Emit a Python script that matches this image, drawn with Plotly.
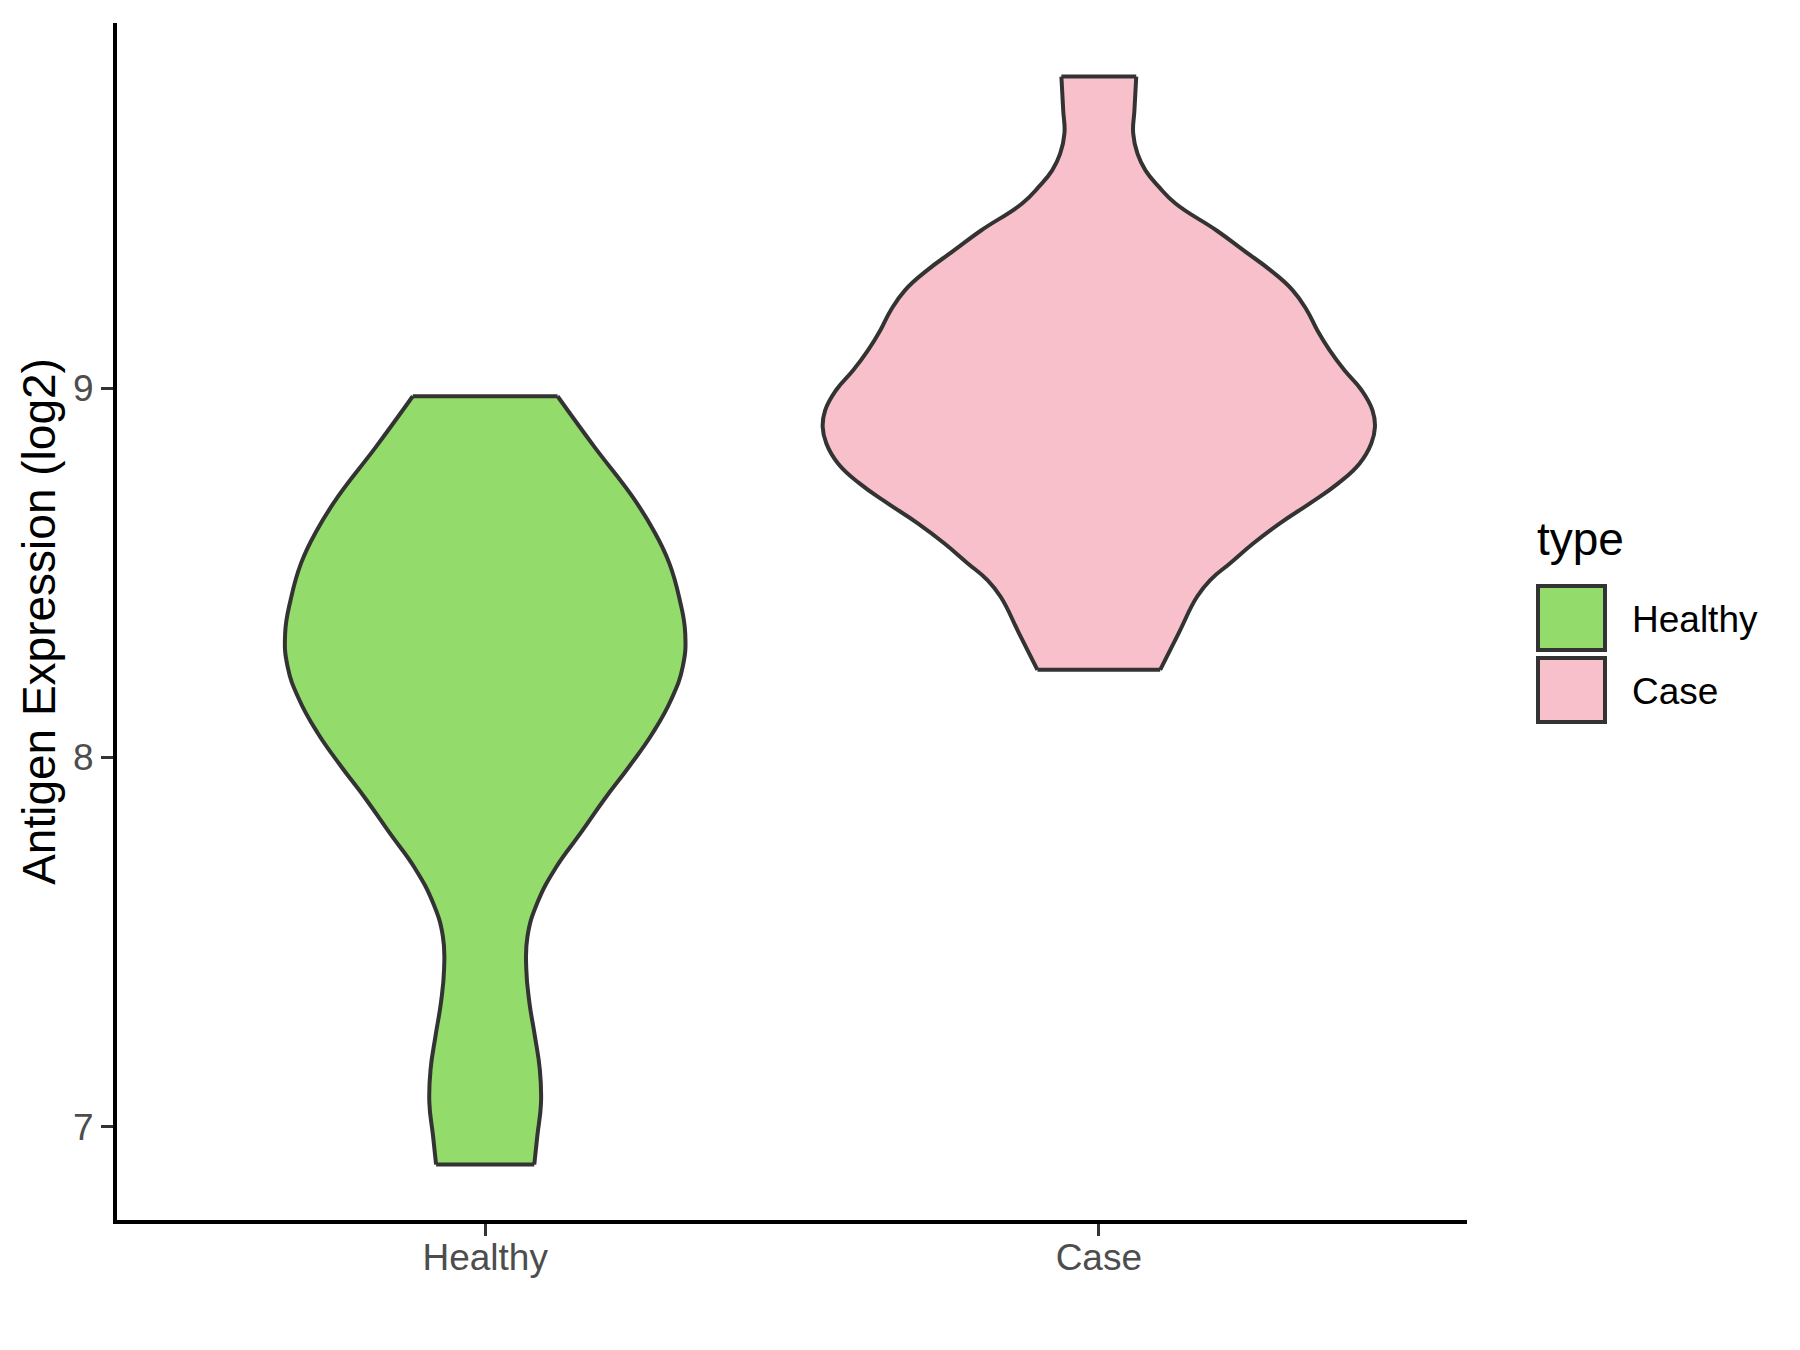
import plotly.graph_objects as go

# ---- data ----
categories = ["Healthy", "Case"]
tick_vals_y = [7, 8, 9]

# violin outline profiles: expression level and half-width (in category units)
healthy_y = [6.897, 6.975, 7.065, 7.155, 7.245, 7.337, 7.426, 7.516, 7.606, 7.701, 7.796,
             7.886, 7.976, 8.066, 8.156, 8.246, 8.336, 8.427, 8.526, 8.616, 8.706, 8.841, 8.978]
healthy_hw = [0.080, 0.085, 0.091, 0.089, 0.081, 0.072, 0.067, 0.069, 0.085, 0.115, 0.156,
              0.194, 0.235, 0.273, 0.303, 0.322, 0.326, 0.317, 0.300, 0.274, 0.240, 0.178, 0.118]

case_y = [8.237, 8.336, 8.435, 8.481, 8.526, 8.580, 8.634, 8.688, 8.742, 8.796, 8.850,
          8.895, 8.940, 8.995, 9.049, 9.103, 9.157, 9.211, 9.265, 9.319, 9.373, 9.427,
          9.500, 9.545, 9.590, 9.635, 9.690, 9.752, 9.844]
case_hw = [0.100, 0.130, 0.160, 0.182, 0.214, 0.252, 0.295, 0.344, 0.390, 0.425, 0.444,
           0.450, 0.446, 0.428, 0.400, 0.376, 0.356, 0.339, 0.316, 0.280, 0.236, 0.192,
           0.125, 0.098, 0.076, 0.063, 0.056, 0.058, 0.061]

colors = {"Healthy": "#93DB6B", "Case": "#F8C0CB"}
profiles = {"Healthy": (healthy_y, healthy_hw), "Case": (case_y, case_hw)}

FONT = "Liberation Sans, Arial, sans-serif"
OUTLINE = "#333333"

W, H = 1800, 1350
OFF = 8  # page body margin in the browser
L, R, T, B = 117 - OFF, 1467 - OFF, 23 - OFF, 1220 - OFF  # plot area in figure pixels

fig = go.Figure()

for i, cat in enumerate(categories):
    center = i + 1
    ys, hws = profiles[cat]
    xs_left = [center - h for h in hws]
    xs_right = [center + h for h in hws]
    line_style = dict(color=OUTLINE, width=4, shape="spline", smoothing=1.3)
    fig.add_trace(go.Scatter(x=xs_left, y=ys, mode="lines", line=line_style,
                             showlegend=False, hoverinfo="skip"))
    fig.add_trace(go.Scatter(x=xs_right, y=ys, mode="lines", line=line_style,
                             fill="tonextx", fillcolor=colors[cat], name=cat,
                             showlegend=False, hoverinfo="skip"))
    fig.add_trace(go.Scatter(
        x=[xs_left[0], xs_right[0], None, xs_left[-1], xs_right[-1]],
        y=[ys[0], ys[0], None, ys[-1], ys[-1]],
        mode="lines", line=dict(color=OUTLINE, width=4),
        showlegend=False, hoverinfo="skip"))

def pxx(x):
    return (x - OFF - L) / (R - L)

def pxy(y):
    return (B - (y - OFF)) / (B - T)

# manual legend (ggplot style), positions given in page pixels
shapes = []
annotations = []
annotations.append(dict(text="type", x=pxx(1535), y=pxy(539), xref="paper", yref="paper",
                        xanchor="left", yanchor="middle", showarrow=False,
                        font=dict(family=FONT, size=46, color="black")))
key_tops = [584, 656]
for cat, top in zip(categories, key_tops):
    shapes.append(dict(type="rect", xref="paper", yref="paper",
                       x0=pxx(1538), x1=pxx(1605), y0=pxy(top + 2), y1=pxy(top + 66),
                       fillcolor=colors[cat], line=dict(color=OUTLINE, width=4)))
    annotations.append(dict(text=cat, x=pxx(1630), y=pxy(top + 35), xref="paper", yref="paper",
                            xanchor="left", yanchor="middle", showarrow=False,
                            font=dict(family=FONT, size=37, color="black")))

fig.update_layout(
    width=W, height=H,
    margin=dict(l=L, r=W - R, t=T, b=H - B, autoexpand=False),
    paper_bgcolor="white", plot_bgcolor="white",
    shapes=shapes, annotations=annotations,
    showlegend=False,
    font=dict(family=FONT),
)
fig.update_xaxes(
    range=[0.4, 2.6], tickmode="array", tickvals=[1, 2], ticktext=categories,
    showgrid=False, zeroline=False, showline=True, linecolor="black", linewidth=4,
    ticks="outside", ticklen=12, tickwidth=3, tickcolor="#333333",
    tickfont=dict(family=FONT, size=37, color="#4D4D4D"),
    ticklabelstandoff=-10,
    automargin=False,
)
fig.update_yaxes(
    range=[6.747, 9.989], tickmode="array", tickvals=tick_vals_y,
    ticktext=[str(v) for v in tick_vals_y],
    showgrid=False, zeroline=False, showline=True, linecolor="black", linewidth=4,
    ticks="outside", ticklen=12, tickwidth=3, tickcolor="#333333",
    tickfont=dict(family=FONT, size=37, color="#4D4D4D"),
    title=dict(text="Antigen Expression (log2)", font=dict(family=FONT, size=46, color="black"),
               standoff=4),
    automargin=False,
)

fig.write_html("out.html")
